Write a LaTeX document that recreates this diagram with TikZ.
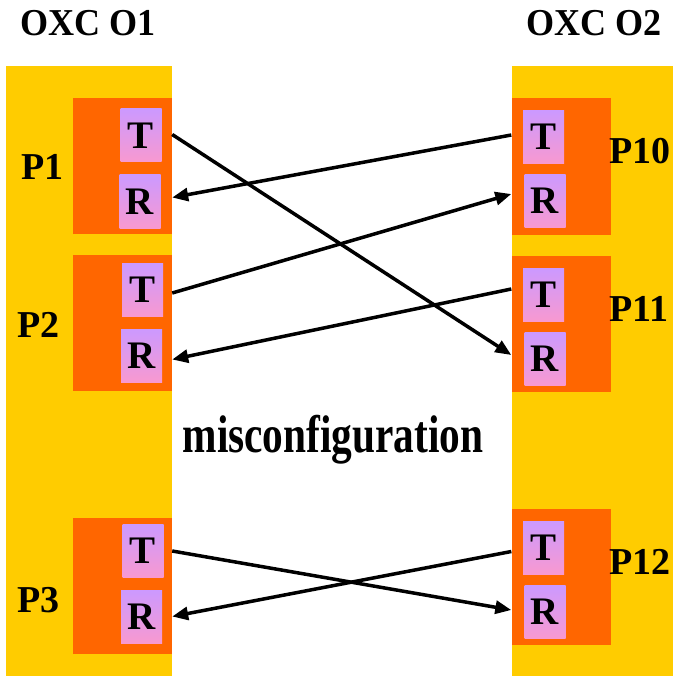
\documentclass[tikz,border=0pt]{standalone}
\usepackage{fontspec}
\setmainfont{Liberation Serif}
\usepackage{graphicx}
\usetikzlibrary{arrows.meta,calc}
\definecolor{colyellow}{HTML}{FFCC00}
\definecolor{colorange}{HTML}{FF6600}
\definecolor{collav}{HTML}{CC99FF}
\definecolor{colpink}{HTML}{F899D0}
\tikzset{
  col/.style={fill=colyellow, draw=none},
  blk/.style={rectangle, fill=colorange, draw=none, minimum width=99pt, minimum height=136pt, inner sep=0pt},
  trbox/.style={rectangle, top color=collav, bottom color=colpink, draw=none, minimum width=41pt, minimum height=53pt, inner sep=0pt, font=\fontsize{39}{42}\selectfont\bfseries},
  lbl/.style={inner sep=0pt, anchor=base west, font=\fontsize{38}{41}\selectfont\bfseries},
  arr/.style={line width=3.5pt, -{Triangle[length=16pt,width=13pt]}},
}
\begin{document}
\begin{tikzpicture}[x=1pt,y=-1pt]
\useasboundingbox (0,0) rectangle (673,676);
% columns
\fill[col] (6,66) rectangle (172,676);
\fill[col] (512,66) rectangle (673,676);
% titles
\node[lbl] (o1) at (20,36) {\scalebox{0.95}[1]{OXC O1}};
\node[lbl] (o2) at (526,36) {\scalebox{0.95}[1]{OXC O2}};
% left blocks
\node[blk] (p1) at (122.5,166) {};
\node[blk] (p2) at (122.5,323) {};
\node[blk] (p3) at (122.5,585.5) {};
\node[trbox] (p1T) at (141,135.5) {T};
\node[trbox] (p1R) at (140,201.5) {R};
\node[trbox] (p2T) at (142.5,290) {T};
\node[trbox] (p2R) at (141.5,355.5) {R};
\node[trbox] (p3T) at (143,551) {T};
\node[trbox] (p3R) at (141.5,616.5) {R};
\node[lbl] (p1l) at (21,180) {P1};
\node[lbl] (p2l) at (17,337) {P2};
\node[lbl] (p3l) at (17,612) {P3};
% right blocks
\node[blk] (p10) at (561,166.5) {};
\node[blk] (p11) at (561,324) {};
\node[blk] (p12) at (561,577) {};
\node[trbox] (p10T) at (543.5,137) {T};
\node[trbox] (p10R) at (545,201) {R};
\node[trbox] (p11T) at (543.5,295) {T};
\node[trbox] (p11R) at (545,359) {R};
\node[trbox] (p12T) at (543.5,547.5) {T};
\node[trbox] (p12R) at (545,612) {R};
\node[lbl] (p10l) at (609,164) {P10};
\node[lbl] (p11l) at (609,321) {P11};
\node[lbl] (p12l) at (609,574) {P12};
% middle label
\node[inner sep=0pt, anchor=base] (mis) at (333,452) {\scalebox{0.78}[1]{\fontsize{53}{56}\selectfont\bfseries misconfiguration}};
% connectors
\draw[arr] ($(p1T.east -| p1.east)+(0,-1)$) -- ($(p11R.west -| p11.west)+(0,-4)$);
\draw[arr] ($(p10T.west -| p10.west)+(0,-2)$) -- ($(p1R.east -| p1.east)+(0,-4)$);
\draw[arr] ($(p2T.east -| p2.east)+(0,3)$) -- ($(p10R.west -| p10.west)+(0,-7)$);
\draw[arr] ($(p11T.west -| p11.west)+(0,-6)$) -- ($(p2R.east -| p2.east)+(0,4)$);
\draw[arr] (p3T.east -| p3.east) -- ($(p12R.west -| p12.west)+(0,-2)$);
\draw[arr] ($(p12T.west -| p12.west)+(0,4)$) -- (p3R.east -| p3.east);
\end{tikzpicture}
\end{document}
